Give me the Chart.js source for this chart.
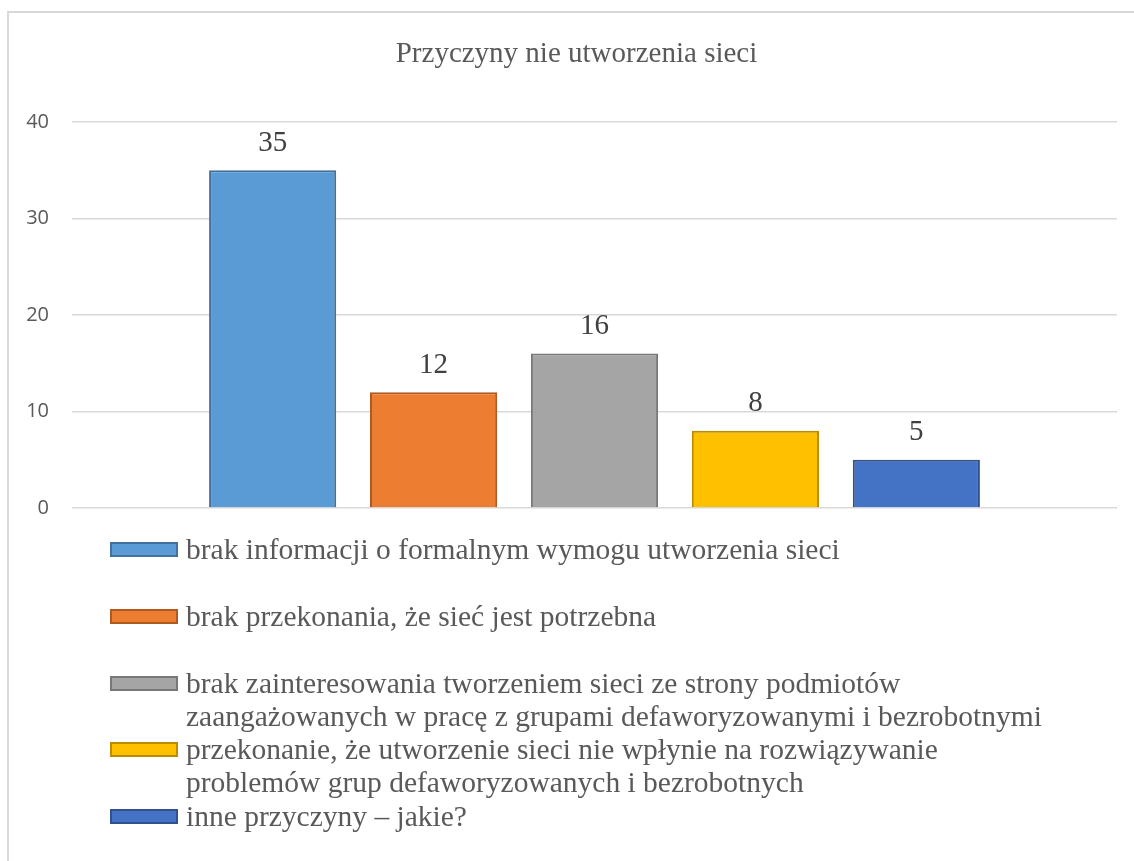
<!DOCTYPE html>
<html>
<head>
<meta charset="utf-8">
<script src="https://cdn.jsdelivr.net/npm/chart.js@4/dist/chart.umd.min.js"></script>
<style>
    body { margin: 0; background: #fff; }
    #wrap { position: relative; width: 1134px; height: 861px; overflow: hidden; }
    #frame {
        position: absolute; left: 7px; top: 11px; width: 1200px; height: 900px;
        border-top: 2px solid #d9d9d9; border-left: 2px solid #d9d9d9;
    }
    #chart { position: absolute; left: 0; top: 0; }
    #title {
        position: absolute; left: 19px; top: 35px; width: 1115px; text-align: center;
        font-family: "Liberation Serif", "Times New Roman", serif;
        font-size: 29px; line-height: 35px; color: #595959;
    }
    #legend { position: absolute; left: 110px; top: 533px; }
    .item { position: absolute; left: 0; width: 1010px; height: 66px; }
    .swatch { position: absolute; left: 0; top: 9px; width: 68px; height: 15px; box-sizing: border-box; border: 2px solid; }
    .label {
        position: absolute; left: 76px; top: 0;
        font-family: "Liberation Serif", "Times New Roman", serif;
        font-size: 29.5px; line-height: 33px; color: #595959; white-space: pre-line;
    }
</style>
</head>
<body>
<div id="wrap">
    <div id="frame"></div>
    <canvas id="chart" width="1134" height="543"></canvas>
    <div id="title"></div>
    <div id="legend"></div>
</div>
<script>
// chart data
var chartTitle = "Przyczyny nie utworzenia sieci";
var categories = [
    "brak informacji o formalnym wymogu utworzenia sieci",
    "brak przekonania, że sieć jest potrzebna",
    "brak zainteresowania tworzeniem sieci ze strony podmiotów\nzaangażowanych w pracę z grupami defaworyzowanymi i bezrobotnymi",
    "przekonanie, że utworzenie sieci nie wpłynie na rozwiązywanie\nproblemów grup defaworyzowanych i bezrobotnych",
    "inne przyczyny – jakie?",
];
var values = [35, 12, 16, 8, 5];
var yTicks = [0, 10, 20, 30, 40];

var fillColors = ["#5B9BD5", "#ED7D31", "#A5A5A5", "#FFC000", "#4472C4"];
var borderColors = ["#41719C", "#AE5A21", "#787878", "#BC8C00", "#2F528F"];

var datasets = categories.map(function (name, i) {
    return {
        label: name,
        data: [values[i]],
        backgroundColor: fillColors[i],
        borderColor: borderColors[i],
        borderWidth: 2,
        categoryPercentage: 0.77,
        barPercentage: 0.79,
    };
});

// value labels above the bars
var valueLabels = {
    id: "valueLabels",
    afterDatasetsDraw: function (chart) {
        var ctx = chart.ctx;
        ctx.save();
        ctx.font = "29px 'Liberation Serif', serif";
        ctx.fillStyle = "#404040";
        ctx.textAlign = "center";
        ctx.textBaseline = "middle";
        chart.data.datasets.forEach(function (ds, i) {
            var bar = chart.getDatasetMeta(i).data[0];
            ctx.fillText(String(ds.data[0]), bar.x, bar.y - 27);
        });
        ctx.restore();
    },
};

document.getElementById("title").textContent = chartTitle;

new Chart(document.getElementById("chart"), {
    type: "bar",
    data: { labels: [""], datasets: datasets },
    plugins: [valueLabels],
    options: {
        responsive: false,
        animation: false,
        layout: { padding: { left: 0, right: 17, top: 122, bottom: 22 } },
        plugins: {
            legend: { display: false },
            tooltip: { enabled: false },
            title: { display: false },
        },
        scales: {
            x: { display: false },
            y: {
                min: 0,
                max: 40,
                afterFit: function (scale) { scale.width = 72; },
                afterBuildTicks: function (scale) {
                    scale.ticks = yTicks.map(function (v) { return { value: v }; });
                },
                border: { display: false },
                grid: { color: "#d9d9d9", lineWidth: 1.5, drawTicks: false },
                ticks: {
                    color: "#595959",
                    padding: 23,
                    font: { family: "'Open Sans', sans-serif", size: 20 },
                },
            },
        },
    },
});

// legend built from the same arrays
var legend = document.getElementById("legend");
categories.forEach(function (name, i) {
    var item = document.createElement("div");
    item.className = "item";
    item.style.top = (i * 66.8) + "px";
    var sw = document.createElement("div");
    sw.className = "swatch";
    sw.style.background = fillColors[i];
    sw.style.borderColor = borderColors[i];
    var lb = document.createElement("div");
    lb.className = "label";
    lb.textContent = name;
    item.appendChild(sw);
    item.appendChild(lb);
    legend.appendChild(item);
});
</script>
</body>
</html>
